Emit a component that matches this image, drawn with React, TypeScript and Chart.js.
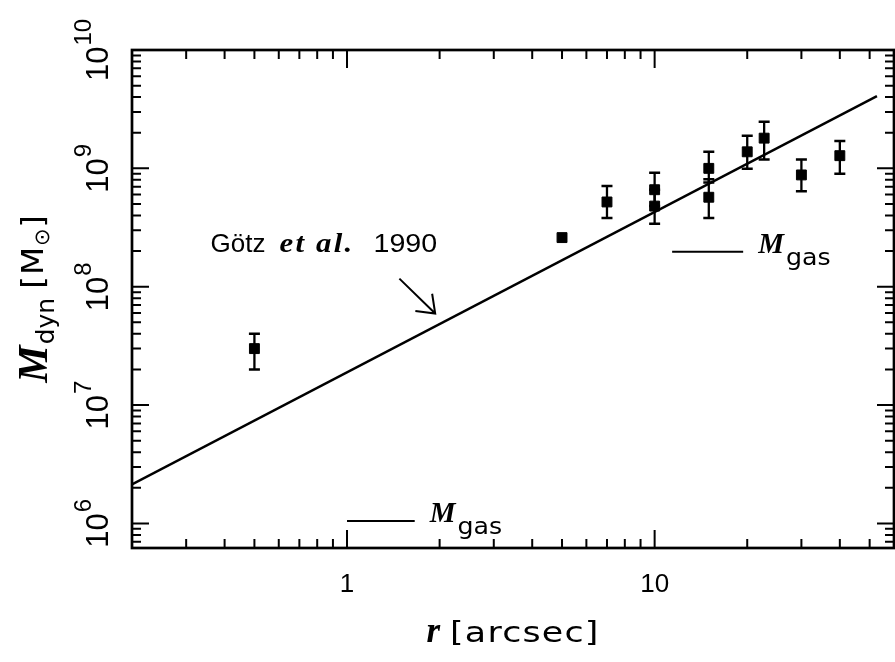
import React, { useEffect, useRef } from 'react';
import { Chart, registerables } from 'chart.js';

Chart.register(...registerables);

// Dynamical mass estimates: radius (arcsec), mass and error range (solar masses)
const radiusArcsec = [0.5, 5, 7, 10, 10, 15, 15, 20, 22.7, 30, 40];
const massDyn = [3.0e7, 2.6e8, 5.2e8, 6.6e8, 4.8e8, 1.0e9, 5.7e8, 1.38e9, 1.8e9, 8.8e8, 1.28e9];
const massLow = [2.0e7, null, 3.8e8, 4.8e8, 3.4e8, 7.6e8, 3.8e8, 9.9e8, 1.19e9, 6.4e8, 9.0e8];
const massHigh = [4.0e7, null, 7.1e8, 9.2e8, 6.6e8, 1.38e9, 8.1e8, 1.89e9, 2.48e9, 1.19e9, 1.7e9];

// Götz et al. (1990) mass profile (straight line in log-log space)
const goetzRadius = [0.2, 52.8];
const goetzMass = [2.14e6, 4.08e9];

// Gas-mass reference bars
const gasBarRadius = [
  [1.0, 1.66],
  [11.4, 19.4],
];
const gasBarMass = [1.05e6, 1.97e8];

// Axis extents and labelled ticks
const xRange = [0.2, 60];
const yRange = [6.2e5, 1e10];
const xTickValues = [1, 10];
const xTickLabels = ['1', '10'];
const yTickExponents = [6, 7, 8, 9, 10];

// Annotation for the Götz et al. curve
const goetzLabelAt = { r: 0.36, m: 1.98e8 };
const goetzArrowFrom = { r: 1.48, m: 1.17e8 };
const goetzArrowTo = { r: 1.935, m: 5.94e7 };

const SANS = '"DejaVu Sans", "Liberation Sans", sans-serif';
const ARIAL = '"Liberation Sans", Arial, sans-serif';
const SERIF = '"Liberation Serif", "Times New Roman", serif';

type Run = { text: string; font: string; dy?: number; ls?: number; gap?: number; sx?: number };

function runWidth(ctx: CanvasRenderingContext2D, run: Run) {
  ctx.font = run.font;
  (ctx as any).letterSpacing = `${run.ls || 0}px`;
  return ctx.measureText(run.text).width * (run.sx || 1);
}

function drawRuns(
  ctx: CanvasRenderingContext2D,
  runs: Run[],
  x: number,
  y: number,
  align: 'left' | 'center'
) {
  const widths = runs.map((r) => runWidth(ctx, r));
  const total = widths.reduce((s, w, i) => s + w + (runs[i].gap || 0), 0);
  let cx = align === 'center' ? x - total / 2 : x;
  ctx.textAlign = 'left';
  ctx.textBaseline = 'alphabetic';
  runs.forEach((r, i) => {
    ctx.save();
    ctx.font = r.font;
    (ctx as any).letterSpacing = `${r.ls || 0}px`;
    ctx.translate(cx, y + (r.dy || 0));
    ctx.scale(r.sx || 1, 1);
    ctx.fillText(r.text, 0, 0);
    ctx.restore();
    cx += widths[i] + (r.gap || 0);
  });
  (ctx as any).letterSpacing = '0px';
}

function minorTicks(lo: number, hi: number) {
  const out: number[] = [];
  for (let e = Math.floor(Math.log10(lo)); e <= Math.ceil(Math.log10(hi)); e++) {
    for (let k = 2; k <= 9; k++) {
      const v = k * Math.pow(10, e);
      if (v >= lo * 0.999 && v <= hi * 1.001) out.push(v);
    }
  }
  return out;
}

const frameAndLabels = {
  id: 'frameAndLabels',
  beforeDatasetsDraw(chart: any) {
    const { ctx } = chart;
    const xs = chart.scales.x;
    const ys = chart.scales.y;
    ctx.save();
    ctx.strokeStyle = '#000';
    ctx.lineCap = 'butt';
    radiusArcsec.forEach((r, i) => {
      const lo = massLow[i];
      const hi = massHigh[i];
      if (lo == null || hi == null) return;
      const px = xs.getPixelForValue(r);
      const y1 = ys.getPixelForValue(lo);
      const y2 = ys.getPixelForValue(hi);
      ctx.lineWidth = 2.3;
      ctx.beginPath();
      ctx.moveTo(px, y1);
      ctx.lineTo(px, y2);
      ctx.stroke();
      ctx.lineWidth = 2.5;
      ctx.beginPath();
      ctx.moveTo(px - 5.5, y1);
      ctx.lineTo(px + 5.5, y1);
      ctx.moveTo(px - 5.5, y2);
      ctx.lineTo(px + 5.5, y2);
      ctx.stroke();
    });
    ctx.restore();
  },
  afterDraw(chart: any) {
    const { ctx, chartArea } = chart;
    const { left, right, top, bottom } = chartArea;
    const xs = chart.scales.x;
    const ys = chart.scales.y;
    ctx.save();
    ctx.strokeStyle = '#000';
    ctx.fillStyle = '#000';

    // frame
    ctx.lineWidth = 2.7;
    ctx.strokeRect(left, top, right - left, bottom - top);

    // inward ticks on all four sides
    ctx.lineWidth = 2;
    ctx.beginPath();
    const xMinor = minorTicks(xRange[0], xRange[1]);
    const tickX = (v: number, len: number) => {
      const px = xs.getPixelForValue(v);
      ctx.moveTo(px, bottom);
      ctx.lineTo(px, bottom - len);
      ctx.moveTo(px, top);
      ctx.lineTo(px, top + len);
    };
    xTickValues.forEach((v) => tickX(v, 18));
    xMinor.forEach((v) => tickX(v, 9));
    const yMinor = minorTicks(yRange[0], yRange[1]);
    const tickY = (v: number, len: number) => {
      const py = ys.getPixelForValue(v);
      ctx.moveTo(left, py);
      ctx.lineTo(left + len, py);
      ctx.moveTo(right, py);
      ctx.lineTo(right - len, py);
    };
    yTickExponents.forEach((e) => tickY(Math.pow(10, e), 17));
    yMinor.forEach((v) => tickY(v, 9));
    ctx.stroke();

    // x tick labels
    ctx.font = `26px ${ARIAL}`;
    ctx.textAlign = 'center';
    ctx.textBaseline = 'alphabetic';
    xTickValues.forEach((v, i) => {
      ctx.fillText(xTickLabels[i], xs.getPixelForValue(v), bottom + 44);
    });

    // y tick labels: rotated powers of ten
    yTickExponents.forEach((e) => {
      const py = ys.getPixelForValue(Math.pow(10, e));
      ctx.save();
      ctx.translate(left - 24, py);
      ctx.rotate(-Math.PI / 2);
      drawRuns(
        ctx,
        [
          { text: '10', font: `31px ${ARIAL}`, gap: 1 },
          { text: String(e), font: `24px ${ARIAL}`, dy: -17 },
        ],
        0,
        0,
        'center'
      );
      ctx.restore();
    });

    // x axis title
    const cxMid = (left + right) / 2;
    drawRuns(
      ctx,
      [
        { text: 'r', font: `italic bold 35px ${SERIF}`, gap: 10 },
        { text: '[arcsec]', font: `29px ${SANS}`, ls: 1, sx: 1.2 },
      ],
      cxMid,
      bottom + 94,
      'center'
    );

    // y axis title
    ctx.save();
    ctx.translate(47, (top + bottom) / 2);
    ctx.rotate(-Math.PI / 2);
    drawRuns(
      ctx,
      [
        { text: 'M', font: `italic bold 42px ${SERIF}`, gap: 1 },
        { text: 'dyn', font: `25px ${SANS}`, dy: 7, gap: 9 },
        { text: '[M', font: `31px ${SANS}`, dy: -4, ls: 1, sx: 1.05 },
        { text: '\u2299', font: `21px ${SANS}`, dy: 2, ls: 1 },
        { text: ']', font: `31px ${SANS}`, dy: -4 },
      ],
      0,
      0,
      'center'
    );
    ctx.restore();

    // gas-mass reference bars with labels
    ctx.lineWidth = 2;
    gasBarRadius.forEach((pair, i) => {
      const x1 = xs.getPixelForValue(pair[0]);
      const x2 = xs.getPixelForValue(pair[1]);
      const py = ys.getPixelForValue(gasBarMass[i]);
      ctx.beginPath();
      ctx.moveTo(x1, py);
      ctx.lineTo(x2, py);
      ctx.stroke();
      drawRuns(
        ctx,
        [
          { text: 'M', font: `italic bold 29px ${SERIF}`, gap: 2 },
          { text: 'gas', font: `23px ${SANS}`, dy: 12, sx: 1.1 },
        ],
        x2 + 15,
        py + 1,
        'left'
      );
    });

    // Götz et al. label and arrow
    const lx = xs.getPixelForValue(goetzLabelAt.r);
    const ly = ys.getPixelForValue(goetzLabelAt.m);
    drawRuns(ctx, [{ text: 'G\u00f6tz', font: `26px ${ARIAL}` }], lx, ly, 'left');
    drawRuns(ctx, [{ text: 'et al.', font: `italic bold 28px ${SERIF}`, ls: 2, sx: 1.1 }], lx + 69, ly, 'left');
    drawRuns(ctx, [{ text: '1990', font: `26px ${ARIAL}`, sx: 1.1 }], lx + 163, ly, 'left');

    const ax0 = xs.getPixelForValue(goetzArrowFrom.r);
    const ay0 = ys.getPixelForValue(goetzArrowFrom.m);
    const ax1 = xs.getPixelForValue(goetzArrowTo.r);
    const ay1 = ys.getPixelForValue(goetzArrowTo.m);
    const ang = Math.atan2(ay1 - ay0, ax1 - ax0);
    const head = 20;
    const spread = (37 * Math.PI) / 180;
    ctx.lineWidth = 2;
    ctx.beginPath();
    ctx.moveTo(ax0, ay0);
    ctx.lineTo(ax1, ay1);
    ctx.moveTo(ax1 - head * Math.cos(ang - spread), ay1 - head * Math.sin(ang - spread));
    ctx.lineTo(ax1, ay1);
    ctx.lineTo(ax1 - head * Math.cos(ang + spread), ay1 - head * Math.sin(ang + spread));
    ctx.stroke();

    ctx.restore();
  },
};

export default function App() {
  const canvasRef = useRef<HTMLCanvasElement>(null);

  useEffect(() => {
    const canvas = canvasRef.current;
    if (!canvas) return;
    const chart = new Chart(canvas, {
      type: 'scatter',
      data: {
        datasets: [
          {
            label: 'Götz et al. 1990',
            data: goetzRadius.map((r, i) => ({ x: r, y: goetzMass[i] })),
            showLine: true,
            borderColor: '#000',
            borderWidth: 2.4,
            pointRadius: 0,
            tension: 0,
          },
          {
            label: 'M_dyn',
            data: radiusArcsec.map((r, i) => ({ x: r, y: massDyn[i] })),
            showLine: false,
            pointStyle: 'rect',
            pointRadius: 7,
            backgroundColor: '#000',
            borderColor: '#000',
            borderWidth: 1,
          },
        ],
      },
      options: {
        responsive: false,
        animation: false,
        events: [],
        layout: { autoPadding: false, padding: { left: 132, top: 50, right: 1, bottom: 114 } },
        scales: {
          x: { type: 'logarithmic', min: xRange[0], max: xRange[1], display: false },
          y: { type: 'logarithmic', min: yRange[0], max: yRange[1], display: false },
        },
        plugins: {
          legend: { display: false },
          tooltip: { enabled: false },
        },
      },
      plugins: [frameAndLabels],
    });
    return () => chart.destroy();
  }, []);

  return (
    <div
      style={{
        position: 'fixed',
        left: 0,
        top: 0,
        width: 895,
        height: 662,
        background: '#fff',
      }}
    >
      <canvas
        ref={canvasRef}
        width={895}
        height={662}
        style={{ display: 'block', width: 895, height: 662 }}
      />
    </div>
  );
}
